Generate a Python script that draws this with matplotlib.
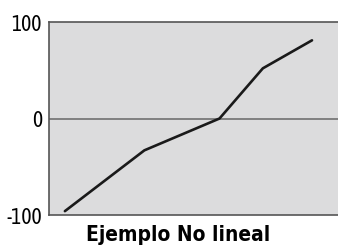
import matplotlib.pyplot as plt

# datos
x = [0.55, 3.3, 5.9, 7.4, 9.1]
y = [-96, -33, 0, 52, 81]
yticks = [-100, 0, 100]
titulo = "Ejemplo No lineal"

fig = plt.figure(figsize=(3.38, 2.49), dpi=100)
ax = fig.add_axes([49/338, 1 - 215/249, 1 - 49/338, 193/249])
ax.set_facecolor("#dcdcdd")
ax.plot(x, y, color="#1a1a1a", lw=1.9, solid_capstyle="round")
ax.axhline(0, color="#707070", lw=1.2, zorder=1)
ax.set_xlim(0, 10)
ax.set_ylim(-100, 100)
ax.set_xticks([])
ax.set_yticks(yticks)
ax.set_yticklabels([str(v) for v in yticks], fontfamily=["Asap Condensed", "DejaVu Sans"],
                   fontsize=15.5)
ax.tick_params(axis="y", length=0, pad=5)
for s in ["left", "top", "bottom"]:
    ax.spines[s].set_color("#555555")
    ax.spines[s].set_linewidth(1.2)
ax.spines["right"].set_visible(False)
fig.text(178/338, 1 - 235/249, titulo, ha="center", va="center",
         fontfamily="DejaVu Sans", fontstretch="condensed", fontweight="bold", fontsize=15)
fig.savefig("out.png", dpi=100)
